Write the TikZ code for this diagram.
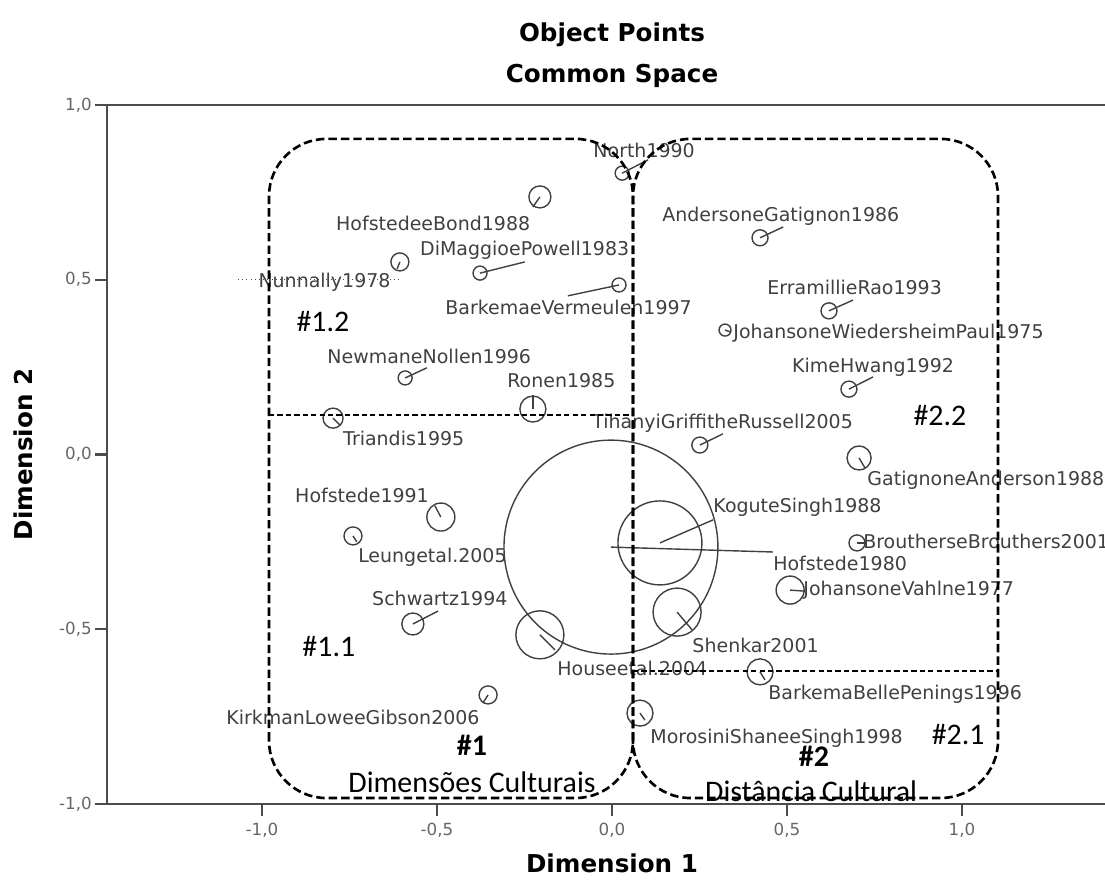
\documentclass[tikz,border=0pt]{standalone}
\usepackage{fontspec}
\setmainfont{DejaVu Sans}
\newfontfamily\calfont{Carlito}
\usetikzlibrary{
    positioning,
    calc,
}
\tikzset{
    % Axis styles
    axis line/.style={line width=1.3pt, black!70},
    tick label/.style={font=\fontsize{9.5}{10}\selectfont, text=black!60, inner sep=0pt},
    axis title/.style={font=\fontsize{14}{16}\selectfont\bfseries, inner sep=0pt},
    % Point styles
    pt/.style={circle, draw=black!75, line width=0.8pt, inner sep=0pt},
    spoke/.style={black!75, line width=0.8pt},
    lbl/.style={font=\fontsize{10.8}{12}\selectfont, text=black!75, inner sep=0pt, anchor=west},
    % Group styles
    group box/.style={draw, line width=1.5pt, dash pattern=on 4.8pt off 2.3pt, rounded corners=1.15cm},
    split line/.style={draw, line width=0.85pt, dash pattern=on 3pt off 1.8pt},
    group label/.style={font=\calfont\fontsize{17}{20}\selectfont, inner sep=0pt, anchor=base},
}

\begin{document}
\begin{tikzpicture}[x=7cm, y=6.99cm]
    \useasboundingbox (-1.7486,-1.2203) rectangle (1.4086,1.3004);
    \clip (-1.7486,-1.2203) rectangle (1.4086,1.3004);

    % Titles
    \node[axis title, anchor=base] (title) at (0, 1.181) {Object Points};
    \node[axis title, anchor=base] (subtitle) at (0, 1.065) {Common Space};
    \node[axis title, anchor=base] (xtitle) at (0, -1.197) {Dimension 1};
    \node[axis title, anchor=base, rotate=90] (ytitle) at (-1.656, 0) {Dimension 2};

    % Frame and ticks
    \draw[axis line] (1.4086,1) -- (-1.443,1) -- (-1.443,-1) -- (1.4086,-1);
    \foreach \y/\txt [count=\i] in {1/{1,0}, 0.5/{0,5}, 0/{0,0}, -0.5/{-0,5}, -1/{-1,0}} {
        \coordinate (ya\i) at (-1.443,\y);
        \draw[axis line] (ya\i) -- ++(-0.034,0) coordinate (yb\i);
        \node[tick label, anchor=east, xshift=-0.06cm] (yt\i) at (yb\i) {\txt};
    }
    \foreach \x/\txt [count=\i] in {-1/{-1,0}, -0.5/{-0,5}, 0/{0,0}, 0.5/{0,5}, 1/{1,0}} {
        \coordinate (xa\i) at (\x,-1);
        \draw[axis line] (xa\i) -- ++(0,-0.034) coordinate (xb\i);
        \node[tick label, anchor=base] (xt\i) at (\x,-1.089) {\txt};
    }

    % Points
    \foreach \i/\cx/\cy/\rad/\ex/\ey/\lx/\ly/\txt in {
        1/0.029/0.805/7/0.103/0.843/-0.054/0.871/North1990,
        2/-0.206/0.737/11/-0.226/0.708/-0.789/0.661/HofstedeeBond1988,
        3/-0.377/0.519/7/-0.249/0.551/-0.549/0.585/DiMaggioePowell1983,
        4/-0.606/0.551/9/-0.614/0.531/-1.011/0.494/Nunnally1978,
        5/0.020/0.485/7/-0.126/0.454/-0.477/0.422/BarkemaeVermeulen1997,
        6/-0.591/0.219/7/-0.529/0.248/-0.814/0.282/NewmaneNollen1996,
        7/-0.226/0.130/13/-0.226/0.170/-0.300/0.210/Ronen1985,
        8/-0.797/0.104/10/-0.777/0.084/-0.769/0.047/Triandis1995,
        9/0.423/0.620/8/0.489/0.651/0.143/0.682/AndersoneGatignon1986,
        10/0.620/0.411/8/0.689/0.442/0.443/0.479/ErramillieRao1993,
        11/0.323/0.356/6/0.337/0.351/0.346/0.348/JohansoneWiedersheimPaul1975,
        12/0.677/0.187/8/0.746/0.222/0.514/0.250/KimeHwang1992,
        13/0.251/0.027/8/0.317/0.059/-0.057/0.090/TihanyiGriffitheRussell2005,
        14/0.706/-0.010/12/0.723/-0.039/0.729/-0.073/GatignoneAnderson1988,
        15/0.137/-0.253/42/0.289/-0.187/0.289/-0.150/KoguteSingh1988,
        16/-0.003/-0.265/107/0.460/-0.279/0.460/-0.313/Hofstede1980,
        17/0.700/-0.253/8/0.726/-0.253/0.717/-0.250/BroutherseBrouthers2001,
        18/0.509/-0.388/14/0.551/-0.391/0.546/-0.388/JohansoneVahlne1977,
        19/0.186/-0.451/24/0.229/-0.502/0.229/-0.545/Shenkar2001,
        20/-0.206/-0.516/24/-0.163/-0.559/-0.157/-0.611/Houseetal.2004,
        21/0.423/-0.622/13/0.437/-0.645/0.446/-0.685/BarkemaBellePenings1996,
        22/0.080/-0.740/13/0.094/-0.760/0.109/-0.811/MorosiniShaneeSingh1998,
        23/-0.489/-0.179/14/-0.506/-0.147/-0.906/-0.116/Hofstede1991,
        24/-0.740/-0.233/9/-0.729/-0.250/-0.726/-0.293/Leungetal.2005,
        25/-0.569/-0.485/11/-0.497/-0.448/-0.686/-0.413/Schwartz1994,
        26/-0.354/-0.688/9/-0.369/-0.711/-1.103/-0.751/KirkmanLoweeGibson2006} {
        \node[pt, minimum size=\rad*0.04cm] (p\i) at (\cx,\cy) {};
        \coordinate (e\i) at (\ex,\ey);
        \draw[spoke] (p\i.center) -- (e\i);
        \node[lbl] (l\i) at (\lx,\ly) {\txt};
    }

    % Stray dotted rule
    \coordinate (dotA) at (-1.069,0.502);
    \coordinate (dotB) at (-0.611,0.502);
    \draw[black!70, line width=0.4pt, dotted] (dotA) -- (dotB);

    % Groups
    \coordinate (g1sw) at (-0.980,-0.983);
    \coordinate (g1ne) at (0.060,0.903);
    \coordinate (g2sw) at (0.060,-0.983);
    \coordinate (g2ne) at (1.103,0.903);
    \draw[group box] (g1sw) rectangle (g1ne);
    \draw[group box] (g2sw) rectangle (g2ne);
    \draw[split line] (g1sw |- 0,0.113) -- (g1ne |- 0,0.113);
    \draw[split line] (g2sw |- 0,-0.619) -- (g2ne |- 0,-0.619);

    \node[group label] (g12) at (-0.826, 0.351) {\#1.2};
    \node[group label] (g11) at (-0.809,-0.579) {\#1.1};
    \node[group label] (g22) at (0.937, 0.084) {\#2.2};
    \node[group label] (g21) at (0.989,-0.831) {\#2.1};
    \node[group label, font=\calfont\fontsize{17}{20}\selectfont\bfseries] (g1) at (-0.400,-0.860) {\#1};
    \node[group label, font=\calfont\fontsize{17}{20}\selectfont\bfseries] (g2) at (0.577,-0.894) {\#2};
    \node[group label] (g1name) at (-0.400,-0.966) {Dimensões Culturais};
    \node[group label] (g2name) at (0.569,-0.994) {Distância Cultural};
\end{tikzpicture}
\end{document}
